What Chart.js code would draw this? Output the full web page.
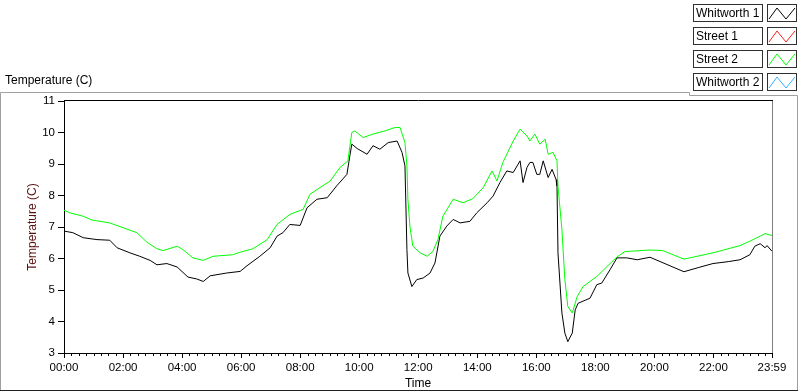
<!DOCTYPE html>
<html>
<head>
<meta charset="utf-8">
<script src="https://cdn.jsdelivr.net/npm/chart.js@4/dist/chart.umd.min.js"></script>
<style>
html,body{margin:0;padding:0;background:#fff;}
#wrap{position:relative;width:800px;height:392px;}
</style>
</head>
<body>
<div id="wrap"><canvas id="c" width="800" height="392"></canvas></div>
<script>
// ---- data (minutes since midnight, temperature in °C) ----
const seriesNames = ['Whitworth 1', 'Street 1', 'Street 2', 'Whitworth 2'];
const seriesColors = ['#000000', '#ff2020', '#00ff00', '#33b0ff'];

const whitworth1Times = [0,18,39,67,93,108,134,154,175,189,209,230,252,270,283,297,331,358,372,398,419,433,445,459,480,494,514,535,555,575,581,585,596,616,628,642,659,677,687,693,697,699,707,717,730,744,754,764,778,791,805,825,839,860,872,886,900,913,927,933,941,947,953,961,967,974,984,992,1000,1002,1004,1012,1018,1024,1033,1039,1045,1069,1083,1093,1110,1124,1144,1165,1191,1260,1289,1319,1350,1374,1394,1404,1415,1425,1429,1439];
const whitworth1Temps = [6.87,6.82,6.66,6.60,6.58,6.34,6.18,6.07,5.94,5.80,5.84,5.73,5.41,5.35,5.27,5.45,5.54,5.59,5.77,6.07,6.34,6.71,6.82,7.08,7.05,7.61,7.88,7.93,8.32,8.67,9.26,9.63,9.49,9.31,9.58,9.47,9.68,9.73,9.37,8.94,6.28,5.54,5.11,5.33,5.38,5.54,5.86,6.71,7.03,7.24,7.13,7.18,7.45,7.77,7.98,8.41,8.78,8.73,9.10,8.41,8.89,9.05,9.05,8.67,8.67,9.10,8.57,8.83,8.51,8.30,6.18,4.27,3.63,3.36,3.63,4.37,4.58,4.74,5.17,5.22,5.65,6.02,6.02,5.96,6.04,5.58,5.71,5.84,5.90,5.96,6.12,6.39,6.47,6.34,6.41,6.23];

const street1Times = [];
const street1Temps = [];

const street2Times = [0,12,39,57,93,114,148,169,189,201,230,242,262,283,303,343,358,384,413,433,459,486,500,520,541,561,577,585,591,608,628,652,673,683,693,697,699,703,709,724,738,750,760,770,791,811,831,852,870,880,892,913,927,941,947,957,967,978,984,994,1002,1004,1012,1018,1024,1033,1043,1055,1083,1104,1124,1140,1191,1217,1260,1319,1374,1394,1415,1425,1439];
const street2Temps = [7.53,7.45,7.34,7.22,7.13,7.01,6.82,6.51,6.31,6.25,6.39,6.28,6.02,5.94,6.07,6.12,6.20,6.31,6.60,7.08,7.40,7.56,8.04,8.25,8.46,8.89,9.10,10.00,10.05,9.84,9.95,10.05,10.16,10.16,9.68,8.94,7.88,7.03,6.39,6.18,6.07,6.23,6.60,7.34,7.88,7.77,7.90,8.25,8.78,8.46,9.05,9.73,10.11,9.89,9.73,9.95,9.63,9.79,9.31,9.37,9.10,8.30,6.92,5.33,4.48,4.27,4.79,5.11,5.43,5.75,6.05,6.22,6.27,6.25,5.98,6.18,6.41,6.55,6.71,6.79,6.73];

const whitworth2Times = [];
const whitworth2Temps = [];

const xTickMinutes = [0,120,240,360,480,600,720,840,960,1080,1200,1320,1439];
const xTickLabels = ['00:00','02:00','04:00','06:00','08:00','10:00','12:00','14:00','16:00','18:00','20:00','22:00','23:59'];
const yTickValues = [3,4,5,6,7,8,9,10,11];

// ---- build ----
function pts(t, v){ return t.map((m,i)=>({x:m, y:v[i]})); }
const allTimes = [whitworth1Times, street1Times, street2Times, whitworth2Times];
const allTemps = [whitworth1Temps, street1Temps, street2Temps, whitworth2Temps];
const drawOrder = [1, 2, 0, 3];

const FONT = 'Liberation Sans, Arial, sans-serif';

const framePlugin = {
  id: 'frame',
  afterDraw(chart){
    const ctx = chart.ctx;
    const ca = chart.chartArea;
    const xs = chart.scales.x;
    ctx.save();
    ctx.lineWidth = 1;
    ctx.strokeStyle = '#000';
    ctx.beginPath(); ctx.moveTo(ca.left, ca.top - 0.5); ctx.lineTo(ca.right + 1, ca.top - 0.5); ctx.stroke();
    ctx.strokeStyle = '#808080';
    ctx.beginPath(); ctx.moveTo(ca.right + 0.5, ca.top); ctx.lineTo(ca.right + 0.5, ca.bottom); ctx.stroke();
    ctx.strokeStyle = '#000';
    ctx.beginPath();
    for (let m = 15; m < 1439; m += 15) {
      if (m % 120 === 0) continue;
      const px = Math.round(xs.getPixelForValue(m)) + 0.5;
      ctx.moveTo(px, ca.bottom); ctx.lineTo(px, ca.bottom + 3);
    }
    ctx.stroke();
    ctx.strokeStyle = '#a0a0a0';
    ctx.beginPath();
    ctx.moveTo(0.5, 390); ctx.lineTo(0.5, 92.5); ctx.lineTo(689.5, 92.5); ctx.lineTo(689.5, 95.5); ctx.lineTo(797.5, 95.5); ctx.lineTo(797.5, 390);
    ctx.stroke();
    ctx.strokeStyle = '#202020';
    ctx.beginPath(); ctx.moveTo(0, 390.5); ctx.lineTo(798, 390.5); ctx.stroke();
    ctx.fillStyle = '#000';
    ctx.font = '12px ' + FONT;
    ctx.textBaseline = 'middle';
    ctx.textAlign = 'left';
    ctx.fillText('Temperature (C)', 5, 81);
    chart.data.datasets.forEach((ds, i) => {
      const y0 = 4 + i * 23;
      ctx.fillStyle = '#fff';
      ctx.fillRect(693, y0, 70, 18);
      ctx.fillRect(767, y0, 30, 18);
      ctx.strokeStyle = '#303030';
      ctx.strokeRect(693.5, y0 + 0.5, 69, 17);
      ctx.strokeRect(767.5, y0 + 0.5, 29, 17);
      ctx.fillStyle = '#000';
      ctx.font = '12px ' + FONT;
      ctx.fillText(ds.label, 696, y0 + 9.5);
      ctx.strokeStyle = ds.borderColor;
      ctx.beginPath();
      ctx.moveTo(769, y0 + 15); ctx.lineTo(777, y0 + 4); ctx.lineTo(786, y0 + 15); ctx.lineTo(795, y0 + 4);
      ctx.stroke();
    });
    ctx.restore();
  }
};

new Chart(document.getElementById('c'), {
  type: 'line',
  data: {
    datasets: seriesNames.map((name, i) => ({
      label: name,
      data: pts(allTimes[i], allTemps[i]),
      borderColor: seriesColors[i],
      backgroundColor: seriesColors[i],
      borderWidth: 1,
      pointRadius: 0,
      tension: 0,
      fill: false,
      order: drawOrder[i]
    }))
  },
  options: {
    responsive: false,
    animation: false,
    devicePixelRatio: 1,
    layout: { padding: { left: 0, right: 28, top: 101, bottom: 0 } },
    plugins: { legend: { display: false }, tooltip: { enabled: false } },
    scales: {
      x: {
        type: 'linear',
        min: 0, max: 1439,
        afterBuildTicks(scale){ scale.ticks = xTickMinutes.map(v => ({value: v})); },
        afterFit(scale){ scale.height = 39; },
        ticks: {
          autoSkip: false, maxRotation: 0, padding: 3,
          color: '#000', font: { family: FONT, size: 11.5 },
          callback(v){ const k = xTickMinutes.indexOf(v); return k >= 0 ? xTickLabels[k] : ''; }
        },
        grid: { drawOnChartArea: false, drawTicks: true, tickLength: 5, color: '#000' },
        border: { display: true, color: '#000' },
        title: { display: true, text: 'Time', color: '#000', font: { family: FONT, size: 12 }, padding: { top: 0, bottom: 1 } }
      },
      y: {
        min: 3, max: 11,
        afterBuildTicks(scale){ scale.ticks = yTickValues.map(v => ({value: v})); },
        afterFit(scale){ scale.width = 64; },
        ticks: { padding: 3, color: '#000', font: { family: FONT, size: 11.5 } },
        grid: { drawOnChartArea: false, drawTicks: true, tickLength: 6, color: '#000' },
        border: { display: true, color: '#000' },
        title: { display: true, text: 'Temperature (C)', color: '#5a1010', font: { family: FONT, size: 12 }, padding: { top: 25, bottom: 0 } }
      }
    }
  },
  plugins: [framePlugin]
});
</script>
</body>
</html>
